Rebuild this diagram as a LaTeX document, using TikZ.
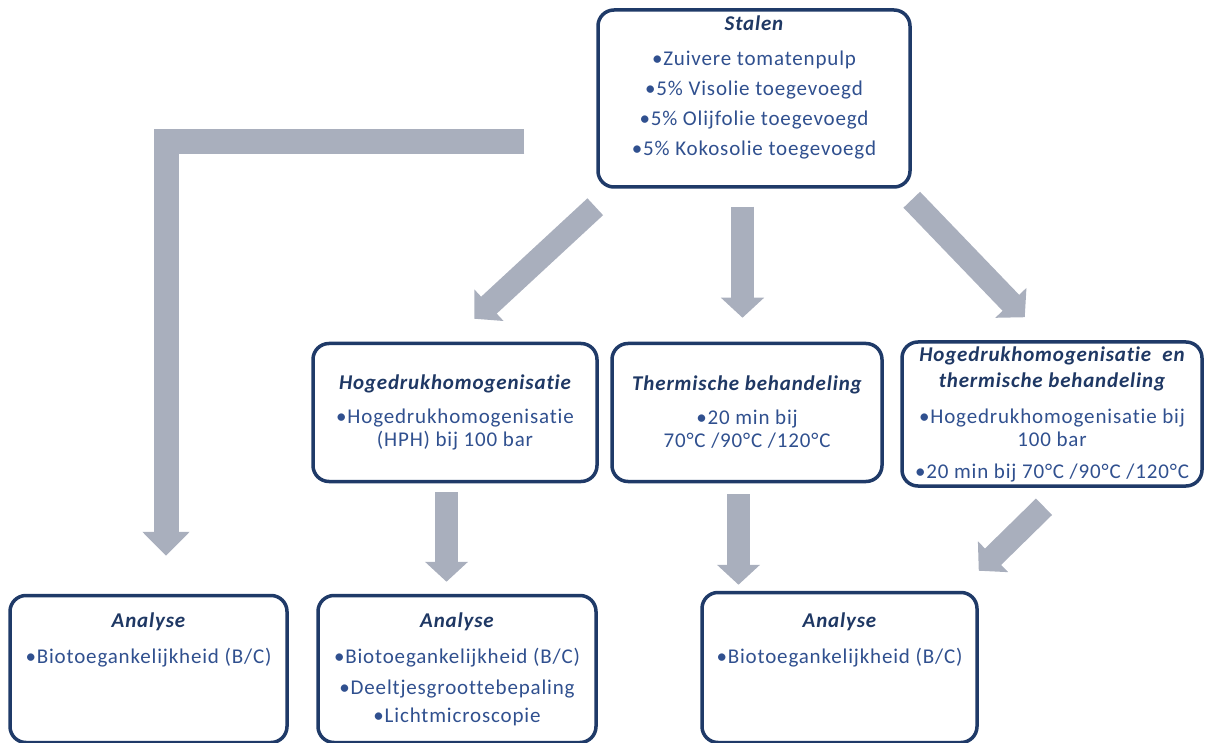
\documentclass[tikz,border=0pt]{standalone}
\usepackage{fontspec}
\setmainfont{Carlito}[LetterSpace=4, Ligatures=NoCommon]
\usetikzlibrary{arrows.meta}
\definecolor{boxline}{HTML}{1F3A68}
\definecolor{titleblue}{HTML}{1F3864}
\definecolor{bodyblue}{HTML}{30508F}
\definecolor{arrowgrey}{HTML}{A9AFBD}
\tikzstyle{box} = [rectangle, rounded corners=16pt, draw=boxline, line width=3.5pt, fill=white, inner sep=0pt, text=bodyblue, font=\fontsize{21}{23}\selectfont]
\tikzstyle{arrow} = [draw=arrowgrey, line width=23pt, -{Triangle[width=42pt,length=20pt]}]

\begin{document}
\begin{tikzpicture}[x=1pt, y=1pt, node distance=314pt]
\useasboundingbox (0,0) rectangle (1208,-743);
\node (stalen) [box] at (754,-98.5) {\parbox[c][177pt][t]{312pt}{\centering\vspace*{6pt}
  {\color{titleblue}\bfseries\itshape Stalen}\\[12pt]
  •Zuivere tomatenpulp\\[7pt]
  •5\% Visolie toegevoegd\\[7pt]
  •5\% Olijfolie toegevoegd\\[7pt]
  •5\% Kokosolie toegevoegd}};
\node (hdh) [box, below of=stalen, xshift=-299pt] {\parbox[c][138pt][c]{284pt}{\centering
  {\color{titleblue}\bfseries\itshape Hogedrukhomogenisatie}\\[11pt]
  •Hogedrukhomogenisatie\\
  (HPH) bij 100 bar}};
\node (therm) [box, right of=hdh, xshift=-22pt] {\parbox[c][138pt][c]{270pt}{\centering
  {\color{titleblue}\bfseries\itshape Thermische behandeling}\\[11pt]
  •20 min bij\\
  70°C /90°C /120°C}};
\node (combi) [box, right of=therm, xshift=-9pt, yshift=-1.5pt] {\parbox[c][144pt][c]{300pt}{\centering
  {\color{titleblue}\bfseries\itshape Hogedrukhomogenisatie\ \ en\\[3pt]
  thermische behandeling}\\[13pt]
  •Hogedrukhomogenisatie bij\\
  100 bar\\[9pt]
  •20 min bij 70°C /90°C /120°C}};
\node (ana2) [box, below of=hdh, xshift=2pt, yshift=57.5pt] {\parbox[c][147pt][t]{278pt}{\centering\vspace*{17pt}
  {\color{titleblue}\bfseries\itshape Analyse}\\[13pt]
  •Biotoegankelijkheid (B/C)\\[8pt]
  •Deeltjesgroottebepaling\\[5pt]
  •Lichtmicroscopie}};
\node (ana1) [box, left of=ana2, xshift=5.5pt] {\parbox[c][147pt][t]{277pt}{\centering\vspace*{17pt}
  {\color{titleblue}\bfseries\itshape Analyse}\\[13pt]
  •Biotoegankelijkheid (B/C)}};
\node (ana3) [box, right of=ana2, xshift=68.5pt, yshift=1.5pt] {\parbox[c][150pt][t]{275pt}{\centering\vspace*{20pt}
  {\color{titleblue}\bfseries\itshape Analyse}\\[13pt]
  •Biotoegankelijkheid (B/C)}};
\coordinate (bendstart) at ([shift={(-72,-43)}]stalen.west);

\draw [arrow] ([shift={(-1,-18)}]stalen.south west) -- ([shift={(163,23)}]hdh.north west);
\draw [arrow] ([shift={(-11.5,-18)}]stalen.south) -- ([shift={(-4.5,24)}]therm.north);
\draw [arrow] ([shift={(0,-11)}]stalen.south east) -- ([shift={(-179,23)}]combi.north east);
\draw [arrow] ([shift={(-8.5,-9)}]hdh.south) -- ([shift={(-10.5,12)}]ana2.north);
\draw [arrow] ([shift={(-8.5,-11)}]therm.south) -- ([shift={(-101,6)}]ana3.north);
\draw [arrow] ([shift={(-8,-19)}]combi.south) -- ([shift={(0,20)}]ana3.north east);
\draw [arrow, line width=25pt, -{Triangle[width=46pt,length=24pt]}] (bendstart) -| ([shift={(17.5,38)}]ana1.north);
\end{tikzpicture}
\end{document}
